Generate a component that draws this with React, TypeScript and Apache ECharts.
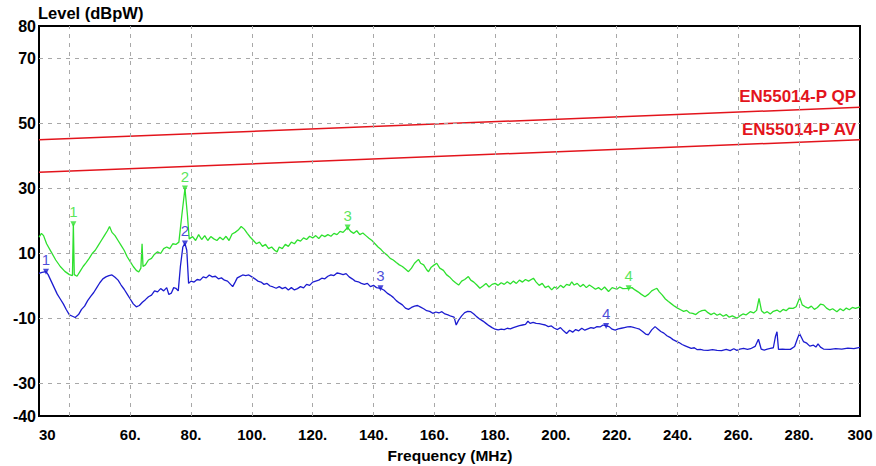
import React, { useEffect, useRef } from "react";
import * as echarts from "echarts";

// Axis ticks / labels
const yLabelValues = [80, 70, 50, 30, 10, -10, -30, -40];
const hGridValues = [70, 50, 30, 10, -10, -30];
const vGridValues = [40, 60, 80, 100, 120, 140, 160, 180, 200, 220, 240, 260, 280];

// Limit lines (EN55014 disturbance power)
const qpLimit = [[30, 45], [300, 55]];
const avLimit = [[30, 35], [300, 45]];

// Measured traces [MHz, dBpW]
const greenTrace = [
  [30, 15], [30.8, 16.2], [31.5, 15.5], [32.5, 13], [34, 10.5], [35.5, 8], [37, 6], [38.5, 4.5], [40, 3.5],
  [41, 3.2], [41.3, 19], [41.6, 3.5], [42.5, 3], [43.5, 4.5], [44.5, 6], [45.5, 7.2], [46.5, 8.5], [47.5, 10],
  [48.5, 11], [49.5, 12.5], [50.5, 14], [51.5, 15.5], [52.5, 17], [53.2, 18.3], [54, 16.5], [55, 15.5], [56, 14],
  [57, 12.5], [58, 11], [59, 9], [60, 7.5], [61, 6], [62, 4.8], [62.8, 4.3], [63.5, 5.5], [63.9, 13], [64.2, 6],
  [65, 6.5], [66, 8], [67, 8.5], [68, 9.8], [69, 10.5], [70, 10], [71, 11.5], [72, 12], [73, 11.5], [74, 13],
  [75, 12.8], [76, 13.5], [77, 22], [78, 30], [78.8, 22], [79.4, 14.5], [80.5, 15.2], [81.5, 14], [82.5, 15.8],
  [83.5, 14.3], [84.5, 15.5], [85.5, 14], [86.5, 15.2], [87.5, 14.5], [88.5, 14], [89.5, 15], [90.5, 14.2],
  [91.5, 15.3], [92.5, 14], [93.5, 16], [94.5, 16.5], [95.5, 17.2], [96.5, 18.3], [97.5, 17.5], [98.5, 16.2],
  [99.5, 15], [100.5, 14], [101.5, 13], [102.5, 13.5], [103.5, 12.2], [104.5, 12.8], [105.5, 11.5], [106.5, 12],
  [107.5, 11], [108.3, 10.5], [109, 12], [110, 11.5], [111, 12.8], [112, 12.2], [113, 13.5], [114, 13],
  [115, 14.2], [116, 13.8], [117, 14.8], [118, 14.3], [119, 15.3], [120, 14.8], [121, 15.5], [122, 14.6],
  [123, 15.7], [124, 15.2], [125, 15.8], [126, 15.3], [127, 16.2], [128, 15.8], [129, 16.8], [130, 16.5],
  [131.5, 18], [132.5, 16.8], [133.5, 16.2], [134.5, 17], [135.5, 15.8], [136.5, 16.3], [137.5, 15.5],
  [138.5, 14.7], [139.5, 14], [140.5, 13], [141.5, 12], [142.5, 11.2], [143.5, 10.2], [144.5, 9.5], [145.5, 8.5],
  [146.5, 8], [147.5, 7.2], [148.5, 6.5], [149.5, 6], [150.5, 5.2], [151.5, 4.4], [152.5, 5.5], [153.5, 7],
  [154.8, 8.2], [155.5, 7], [156.5, 6.5], [157.5, 5], [158.1, 4.4], [159, 5.8], [160, 6.5], [160.8, 7],
  [161.8, 5.5], [163, 4.8], [164, 3.5], [165, 2.8], [166, 1.8], [167, 1], [168, 0.3], [169, 1.5], [170, 2],
  [171.2, 2.9], [172, 1.8], [173, 1.2], [174, 0.3], [175, -0.7], [176, 0], [177, 0.8], [178, -0.3], [179, 0.5],
  [180, 0.8], [181, 0.2], [182, 1], [183, 0.5], [184, 1.3], [185, 0.6], [186, 1.5], [187, 0.8], [188, 1.8],
  [189, 1.2], [190, 2], [191, 1.5], [192.6, 2.4], [193.5, 1.2], [194.5, 0.2], [195.5, 0.8], [196.5, -0.5],
  [197.5, 0], [198.6, -1.2], [199.5, -0.3], [200.5, -0.8], [201.5, 0.2], [202.5, -0.5], [203.5, 0.5],
  [204.5, 0.2], [205.2, 1.3], [206, 0.3], [207, 0.8], [208, -0.2], [209, 0.5], [210, -0.5], [211, 0.3],
  [212, -0.3], [213, -1], [214, -0.5], [215, -1.2], [216, -0.3], [217.3, -1.7], [218.5, -0.5], [220, -1],
  [221, -0.3], [222, -0.8], [223.9, -0.7], [225, -0.5], [226, -1.2], [227, -1.8], [228, -2.5], [229.3, -3.3],
  [230.5, -2.5], [231.5, -1.5], [232.5, -1], [233.2, -0.7], [234, -1.8], [235, -2.8], [236, -4], [237, -4.8],
  [238, -5.5], [239, -6.2], [240, -6.8], [241, -7.3], [242, -7.8], [243, -7.5], [244, -8.3], [245, -8.4],
  [246, -8.8], [247, -8], [248, -7.6], [249, -7.4], [250, -8.2], [251, -8.8], [252, -8.3], [253, -9],
  [254, -8.6], [255, -9.3], [256, -8.8], [257, -9.6], [258, -9.2], [259.5, -9.9], [260.5, -9.2], [261.5, -8.6],
  [262.5, -8.9], [263.9, -7.9], [265, -8.3], [266, -7.5], [266.8, -3.8], [267.6, -7.6], [268.5, -8.4],
  [269.5, -7.9], [270.5, -8.6], [271.5, -7.8], [272.7, -7.4], [273.7, -8], [274.7, -7.2], [275.7, -7.6],
  [276.7, -6.8], [278, -6.9], [279, -6.4], [280.2, -3.5], [281, -5.8], [282, -6.4], [283, -6.8], [284, -6.2],
  [285, -7.2], [286, -6.6], [287, -5.6], [288, -5.8], [289, -6.8], [290, -7.4], [291, -7], [292.4, -7.9],
  [293.5, -7], [294.5, -7.6], [295.5, -6.8], [296.5, -7.3], [297.5, -6.6], [298.5, -6.9], [300, -6.4],
];

const blueTrace = [
  [30, 3.9], [31, 4.2], [32.3, 4.4], [33, 3.5], [34, 1.5], [35, -0.5], [36, -2.5], [37, -4], [38, -5.5],
  [39, -7.3], [40, -8.9], [41, -9.3], [41.9, -9.7], [43, -8.8], [44, -7.2], [45, -6.2], [46, -4.5], [47, -3.2],
  [48, -2], [49, -0.5], [50, 1], [51, 2.2], [52, 2.8], [53, 3.2], [54, 3.4], [55, 2.7], [56, 1.8], [57, 0.3],
  [58, -1], [59, -2.5], [60, -4], [61, -5.5], [62, -6.4], [63, -6], [64, -5], [65, -4.2], [66, -3.3],
  [67, -2.8], [68, -1.5], [69, -1.8], [70, -0.8], [71, -1.5], [72, -0.5], [72.7, -2.6], [73.5, -2.2],
  [74.3, -0.5], [75, -0.7], [75.8, -1.5], [76.5, 6], [77.3, 12], [78, 13.1], [78.6, 11], [79.2, 0.8],
  [80, 1.5], [81, 1.2], [82, 2], [83, 1.8], [84, 2.8], [85, 2.5], [86, 3.4], [87, 2.8], [88, 3], [89, 2.2],
  [90, 2.5], [91, 1.8], [92, 1.5], [93, 0.5], [93.7, -0.2], [94.5, 1.2], [95.2, 2.5], [96, 2.9], [97, 3.4],
  [98, 3.2], [99, 3.4], [100, 2.8], [101, 2.2], [102, 1.5], [103, 1.2], [104, 0.5], [105, 0.8], [106, 0],
  [107, -0.3], [108, -0.7], [109, -0.2], [110, -0.8], [111, -0.4], [112, -1.2], [113, -0.5], [114, -1.2],
  [115, -0.8], [116, -0.2], [117, -0.6], [118, 0.5], [119, 0.2], [120, 1.2], [121, 1.5], [122, 1.8],
  [123, 2.4], [124, 2.2], [125, 3], [126, 3.4], [127, 3.2], [128, 4], [129, 3.8], [130, 3.5], [131, 3.8],
  [132, 2.8], [133, 2.2], [134, 1.5], [135, 1.3], [136, 0.8], [137, 0.5], [138, 0.8], [139, -0.2], [140, 0.2],
  [141, -0.5], [142.3, -0.7], [143.5, -1.3], [144.5, -2.2], [145.5, -2.8], [146.5, -3.5], [147.5, -4.5],
  [148.5, -5.2], [149.5, -5.8], [150.5, -6.8], [151.5, -7.2], [152.5, -6.6], [153.5, -6.2], [154.5, -6],
  [155.5, -6.5], [156.5, -7], [157.5, -7.6], [158.5, -7.8], [159.5, -8.4], [160.5, -8], [161.5, -8.3],
  [162.5, -7.9], [163.5, -8.6], [164.5, -8.9], [165.5, -9.3], [166.5, -9.6], [167.2, -12], [168, -10.5],
  [169, -9.2], [170, -8.2], [171, -7.8], [172, -7.9], [173, -8.6], [174, -9.5], [175, -10.2], [176, -10.8],
  [177, -11.5], [178, -12.2], [179, -12.8], [180, -13.3], [181, -13.5], [182, -13.3], [183, -13.4], [184, -13],
  [185, -13.2], [186, -12.8], [187, -12.5], [188, -12.2], [189, -12], [190, -11.8], [190.8, -10.8],
  [191.5, -11.5], [192.5, -11.2], [193.5, -11.5], [194.5, -11.6], [195.5, -11.8], [196.5, -12], [197.5, -12.5],
  [198.5, -12.3], [199.5, -13], [200.5, -13.4], [201.5, -12.8], [202.5, -13.8], [203.5, -14.6], [204.5, -13.6],
  [205.5, -14.2], [206.5, -13.4], [207.5, -13.8], [208.5, -13], [209.5, -13.6], [210.5, -13.2], [211.5, -12.8],
  [212.5, -13], [213.5, -12.5], [214.5, -12.6], [215.5, -12], [216.5, -12.3], [217.5, -12.5], [218.5, -13.3],
  [219.5, -13.6], [220.5, -13.2], [221.5, -13], [222.5, -12.8], [223.5, -12.6], [224.5, -12.5], [225.5, -12.7],
  [226.5, -13], [227.5, -13.3], [228.5, -14], [229.5, -14.8], [230.4, -15], [231.5, -13.5], [232.6, -12.5],
  [233.5, -13.2], [234.5, -14], [235.5, -14.5], [236.5, -15.3], [237.5, -15.8], [238.5, -16.5], [239.8, -17.1],
  [240.5, -17.4], [241.5, -18], [242.5, -18.4], [243.5, -18.8], [244.5, -19.2], [245.5, -19], [246.5, -19.6],
  [247.5, -19.5], [248.5, -19.7], [250, -19.8], [251.5, -19.6], [253, -19.8], [254.5, -19.9], [256, -19.5],
  [257.3, -19.9], [258.5, -19.3], [259.5, -19.8], [260.5, -19.4], [261.7, -19.2], [263, -19.5], [264, -19.3],
  [265.5, -18.6], [266.6, -16.4], [267.5, -19.4], [268.5, -19.7], [269.5, -19.4], [270.5, -19.2], [271.5, -19],
  [272.2, -15.5], [272.7, -14.1], [273.2, -19.5], [274.5, -19.4], [275.5, -19.5], [277.1, -19.5], [278.5, -18.6],
  [279.5, -16], [280.1, -14.6], [281.4, -17.1], [282.5, -17.6], [283.5, -18.5], [284.7, -18.2], [285.5, -18.8],
  [286.2, -17.8], [287, -18.8], [288, -19.4], [290.2, -19.5], [292, -19.3], [294, -19.4], [296, -19.1],
  [298, -19.3], [300, -18.9],
];

const greenMarkers = [[41.3, 19], [78, 30], [131.5, 18], [223.9, -0.7]];
const blueMarkers = [[32.3, 4.4], [78, 13.1], [142.3, -0.7], [216.5, -12.3]];

const FONT = "'Liberation Sans', Arial, Helvetica, sans-serif";
const GREEN = "#2ee02e";
const BLUE = "#1c1cd0";
const RED = "#e3141c";

export default function App() {
  const ref = useRef<HTMLDivElement>(null);
  useEffect(() => {
    if (!ref.current) return;
    const chart = echarts.init(ref.current, undefined, { renderer: "svg" });
    const markerSeries = (data: number[][], color: string, name: string) => ({
      name,
      type: "scatter",
      data,
      z: 5,
      symbol: "triangle",
      symbolRotate: 180,
      symbolSize: 6,
      itemStyle: { color },
      label: {
        show: true,
        position: "top",
        distance: 2,
        formatter: (p: any) => String(p.dataIndex + 1),
        color,
        fontFamily: FONT,
        fontSize: 15,
      },
    });
    chart.setOption({
      animation: false,
      grid: {
        left: 39,
        right: 16,
        top: 26,
        bottom: 50,
        show: true,
        borderColor: "#000",
        borderWidth: 2,
        backgroundColor: "#fff",
      },
      xAxis: {
        type: "value",
        min: 30,
        max: 300,
        interval: 10,
        axisLine: { show: true, onZero: false, lineStyle: { color: "#000", width: 2 } },
        axisTick: { show: false },
        splitLine: { show: false },
        axisLabel: {
          margin: 11,
          color: "#000",
          fontWeight: "bold",
          fontSize: 15,
          fontFamily: FONT,
          alignMinLabel: "left",
          formatter: (v: number) => {
            if (v === 30 || v === 300) return String(v);
            if (v >= 60 && v % 20 === 0) return v + ".";
            return "";
          },
        },
      },
      yAxis: {
        type: "value",
        min: -40,
        max: 80,
        interval: 10,
        axisLine: { show: true, onZero: false, lineStyle: { color: "#000", width: 2 } },
        axisTick: { show: false },
        splitLine: { show: false },
        axisLabel: {
          margin: 3,
          color: "#000",
          fontWeight: "bold",
          fontSize: 16,
          fontFamily: FONT,
          formatter: (v: number) => (yLabelValues.includes(v) ? String(v) : ""),
        },
      },
      graphic: [
        {
          type: "text",
          left: 38,
          top: 4,
          style: { text: "Level (dBpW)", font: `bold 16.5px ${FONT}`, fill: "#000" },
        },
        {
          type: "text",
          x: 450,
          y: 455,
          style: {
            text: "Frequency (MHz)",
            font: `bold 15.5px ${FONT}`,
            fill: "#000",
            textAlign: "center",
            textVerticalAlign: "middle",
          },
        },
        {
          type: "text",
          x: 856,
          y: 96,
          style: {
            text: "EN55014-P QP",
            font: `bold 17px ${FONT}`,
            fill: RED,
            textAlign: "right",
            textVerticalAlign: "middle",
          },
        },
        {
          type: "text",
          x: 856,
          y: 129,
          style: {
            text: "EN55014-P AV",
            font: `bold 17px ${FONT}`,
            fill: RED,
            textAlign: "right",
            textVerticalAlign: "middle",
          },
        },
      ],
      series: [
        {
          name: "grid",
          type: "line",
          data: [[30, -40]],
          showSymbol: false,
          symbol: "none",
          lineStyle: { opacity: 0 },
          z: 1,
          silent: true,
          markLine: {
            silent: true,
            symbol: ["none", "none"],
            label: { show: false },
            lineStyle: { color: "#a8a8a8", width: 1, type: [4, 5] },
            data: [
              ...vGridValues.map((x) => ({ xAxis: x })),
              ...hGridValues.map((y) => ({ yAxis: y })),
            ],
          },
        },
        {
          name: "EN55014-P QP",
          type: "line",
          data: qpLimit,
          showSymbol: false,
          symbol: "none",
          z: 2,
          lineStyle: { color: RED, width: 1.5 },
        },
        {
          name: "EN55014-P AV",
          type: "line",
          data: avLimit,
          showSymbol: false,
          symbol: "none",
          z: 2,
          lineStyle: { color: RED, width: 1.5 },
        },
        {
          name: "QP trace",
          type: "line",
          data: greenTrace,
          showSymbol: false,
          symbol: "none",
          z: 3,
          lineStyle: { color: GREEN, width: 1.3 },
        },
        {
          name: "AV trace",
          type: "line",
          data: blueTrace,
          showSymbol: false,
          symbol: "none",
          z: 3,
          lineStyle: { color: BLUE, width: 1.3 },
        },
        markerSeries(greenMarkers, GREEN, "QP markers"),
        markerSeries(blueMarkers, BLUE, "AV markers"),
      ],
    });
    return () => chart.dispose();
  }, []);
  return (
    <div
      ref={ref}
      style={{ position: "fixed", left: 0, top: 0, width: 876, height: 466, background: "#fff" }}
    />
  );
}
